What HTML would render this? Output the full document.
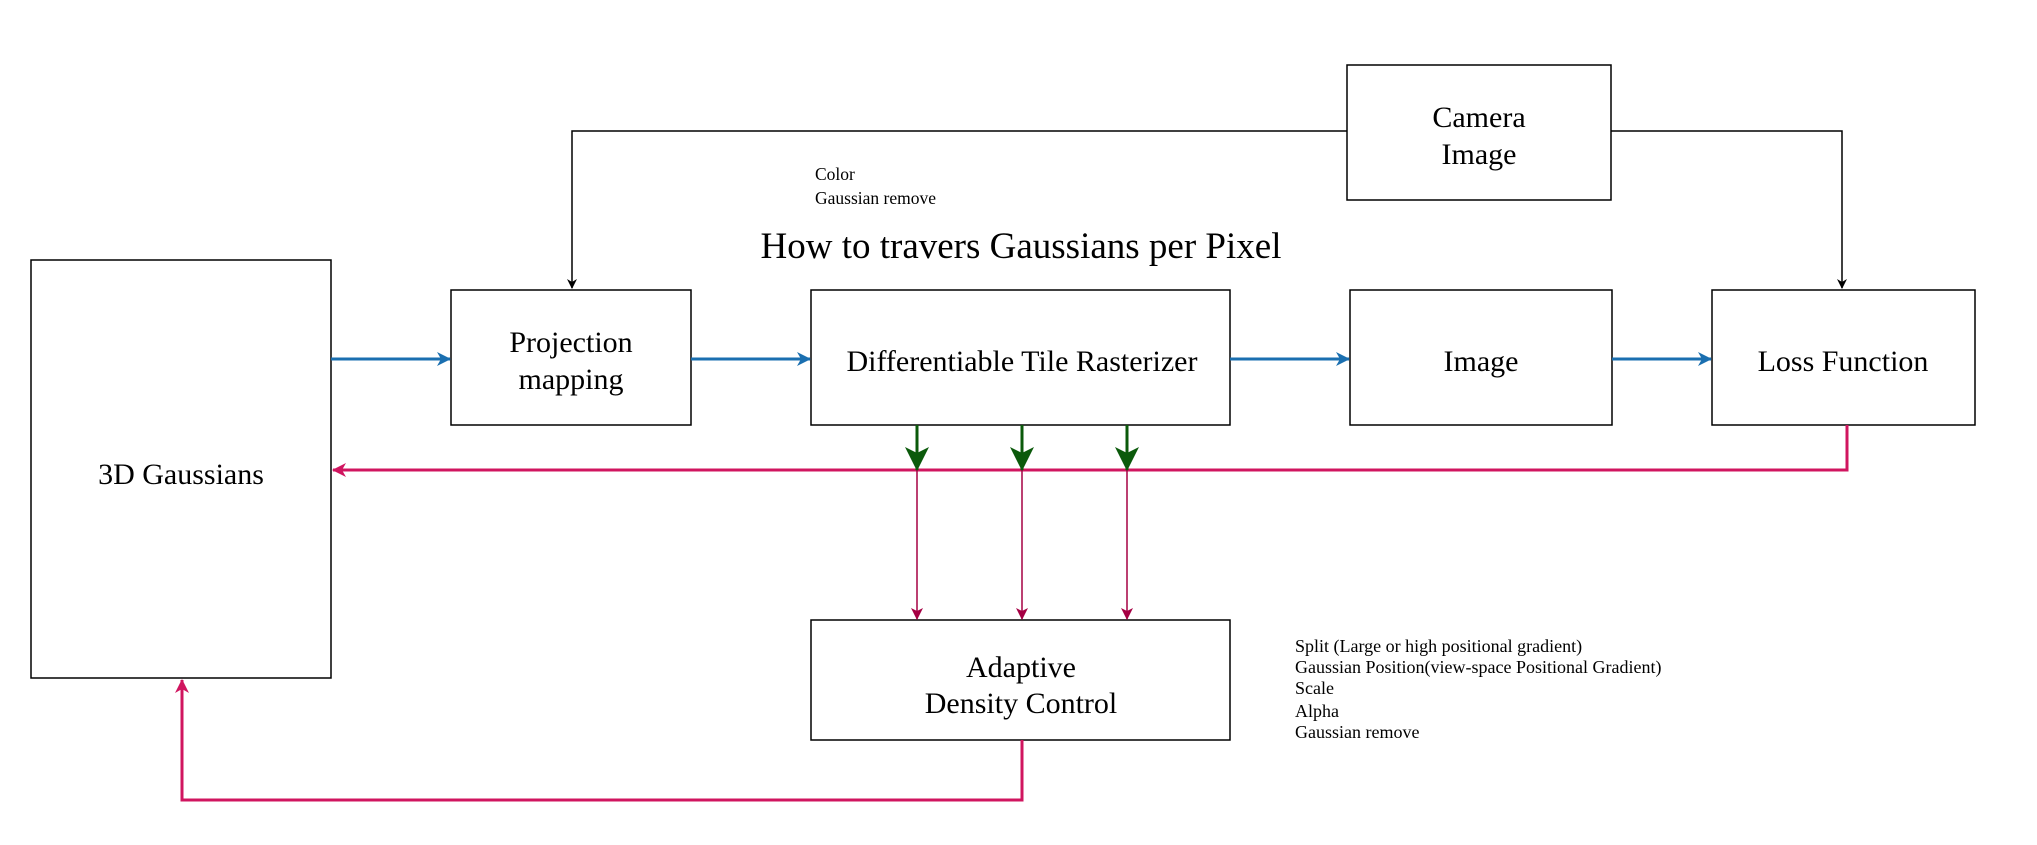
<!DOCTYPE html>
<html><head><style>
body{margin:0;background:#fff;width:2037px;height:845px;overflow:hidden}
svg{display:block}
text{font-family:"Liberation Serif",serif;fill:#000}
</style></head><body>
<svg width="2037" height="845" viewBox="0 0 2037 845">
<defs>
<marker id="ab" markerWidth="10" markerHeight="10" refX="9" refY="5" orient="auto" markerUnits="userSpaceOnUse"><path d="M0,0 L10,5 L0,10 L3,5 Z" fill="#000"/></marker>
<marker id="abl" markerWidth="14" markerHeight="14" refX="13" refY="7" orient="auto" markerUnits="userSpaceOnUse"><path d="M0,0 L14,7 L0,14 L4,7 Z" fill="#1a6fb0"/></marker>
<marker id="ap" markerWidth="14" markerHeight="14" refX="13" refY="7" orient="auto" markerUnits="userSpaceOnUse"><path d="M0,0 L14,7 L0,14 L4,7 Z" fill="#d0155f"/></marker>
<marker id="apt" markerWidth="12" markerHeight="12" refX="11" refY="6" orient="auto" markerUnits="userSpaceOnUse"><path d="M0,0 L12,6 L0,12 L3,6 Z" fill="#a50043"/></marker>
<marker id="ag" markerWidth="24" markerHeight="24" refX="23" refY="12" orient="auto" markerUnits="userSpaceOnUse"><path d="M0,0 L24,12 L0,24 L6,12 Z" fill="#0b5a0b"/></marker>
</defs>
<g fill="#fff" stroke="#000" stroke-width="1.5">
<rect x="31" y="260" width="300" height="418"/>
<rect x="451" y="290" width="240" height="135"/>
<rect x="811" y="290" width="419" height="135"/>
<rect x="1350" y="290" width="262" height="135"/>
<rect x="1712" y="290" width="263" height="135"/>
<rect x="1347" y="65" width="264" height="135"/>
<rect x="811" y="620" width="419" height="120"/>
</g>
<g fill="none" stroke="#000" stroke-width="1.5">
<path d="M1347 131 H572 V288" marker-end="url(#ab)"/>
<path d="M1611 131 H1842 V288" marker-end="url(#ab)"/>
</g>
<g fill="none" stroke="#1a6fb0" stroke-width="3">
<path d="M331 359 H450" marker-end="url(#abl)"/>
<path d="M691 359 H810" marker-end="url(#abl)"/>
<path d="M1230 359 H1349" marker-end="url(#abl)"/>
<path d="M1612 359 H1711" marker-end="url(#abl)"/>
</g>
<g fill="none" stroke="#d0155f" stroke-width="3">
<path d="M1847 425 V470 H333" marker-end="url(#ap)"/>
<path d="M1022 740 V800 H182 V680" marker-end="url(#ap)"/>
</g>
<g fill="none" stroke="#a50043" stroke-width="1.5">
<path d="M917 470 V619" marker-end="url(#apt)"/>
<path d="M1022 470 V619" marker-end="url(#apt)"/>
<path d="M1127 470 V619" marker-end="url(#apt)"/>
</g>
<g fill="none" stroke="#0b5a0b" stroke-width="3">
<path d="M917 425 V470" marker-end="url(#ag)"/>
<path d="M1022 425 V470" marker-end="url(#ag)"/>
<path d="M1127 425 V470" marker-end="url(#ag)"/>
</g>
<g font-size="30" text-anchor="middle">
<text x="181" y="484">3D Gaussians</text>
<text x="571" y="352">Projection</text>
<text x="571" y="389">mapping</text>
<text x="1022" y="371">Differentiable Tile Rasterizer</text>
<text x="1481" y="371">Image</text>
<text x="1843" y="371">Loss Function</text>
<text x="1479" y="127">Camera</text>
<text x="1479" y="164">Image</text>
<text x="1021" y="677">Adaptive</text>
<text x="1021" y="713">Density Control</text>
<text x="1021" y="258" font-size="37">How to travers Gaussians per Pixel</text>
</g>
<g font-size="17.5">
<text x="815" y="180">Color</text>
<text x="815" y="204">Gaussian remove</text>
</g>
<g font-size="18">
<text x="1295" y="652">Split (Large or high positional gradient)</text>
<text x="1295" y="673">Gaussian Position(view-space Positional Gradient)</text>
<text x="1295" y="694">Scale</text>
<text x="1295" y="717">Alpha</text>
<text x="1295" y="738">Gaussian remove</text>
</g>
</svg>
</body></html>
